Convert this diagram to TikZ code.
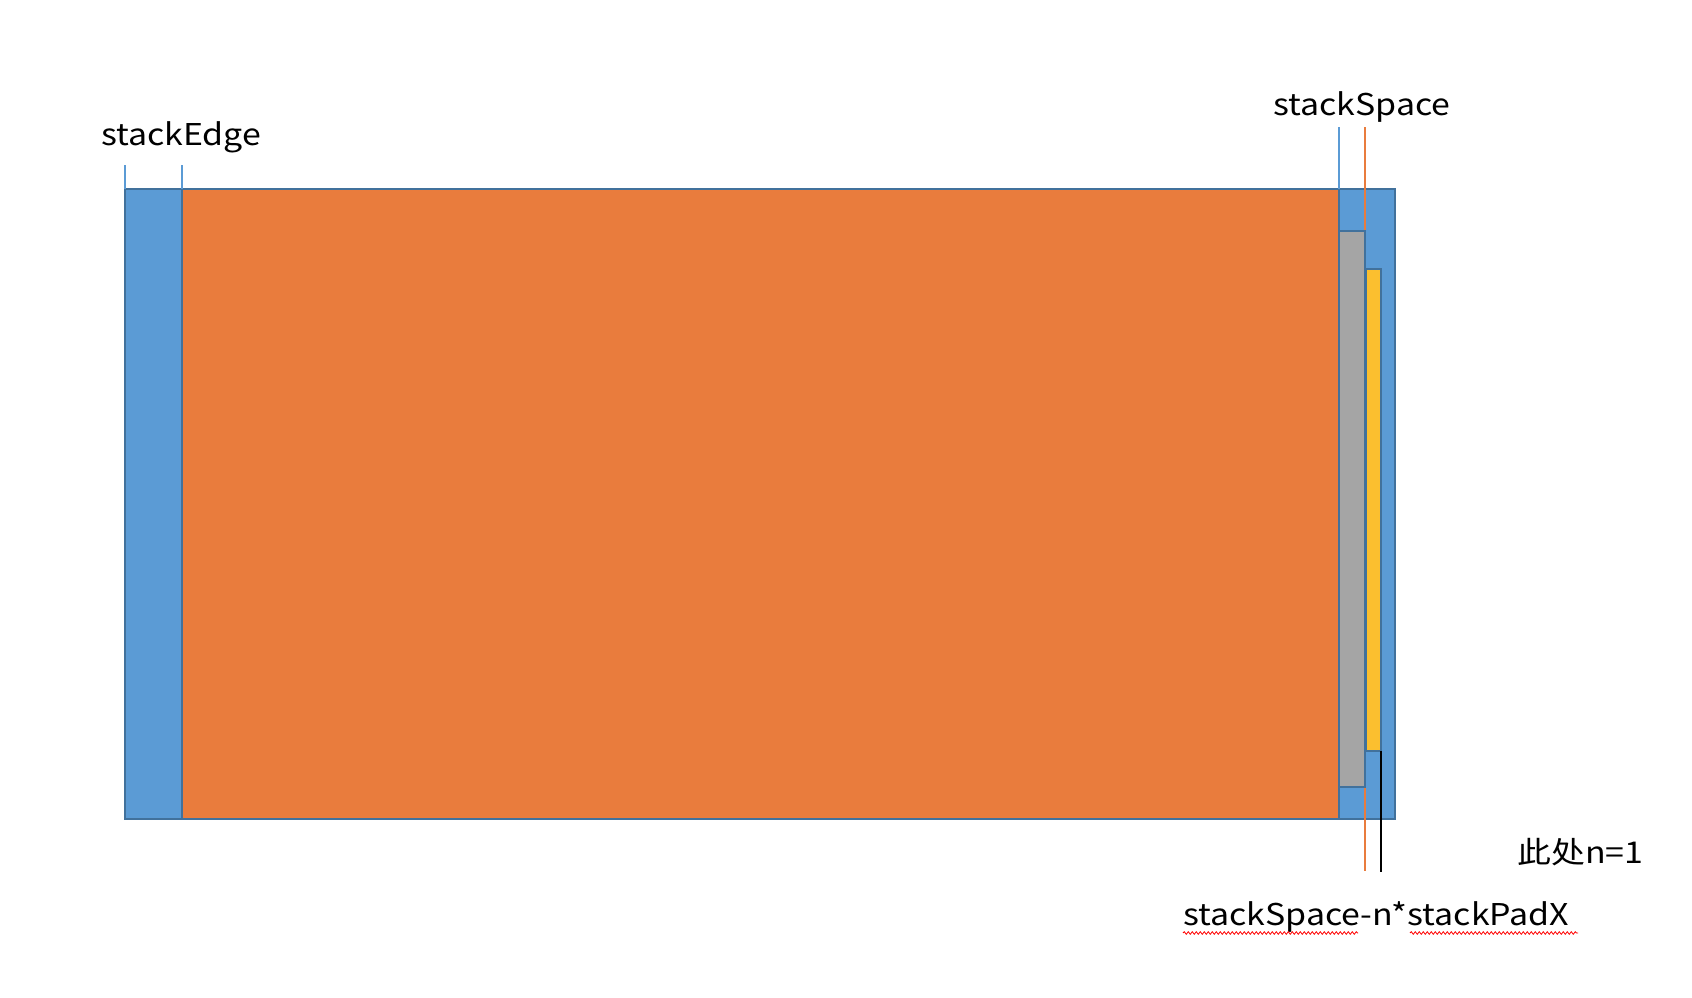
\documentclass[tikz,border=0pt]{standalone}
\usepackage{fontspec}
\setmainfont{Noto Sans CJK SC}[FakeStretch=1.13]
\usetikzlibrary{decorations.pathmorphing}
\definecolor{cblue}{HTML}{5B9BD5}
\definecolor{corange}{HTML}{E97C3D}
\definecolor{cgray}{HTML}{A5A5A5}
\definecolor{cyellow}{HTML}{FBBF2F}
\definecolor{cborder}{HTML}{41719C}
\tikzset{
  box/.style={draw=cborder, line width=1.6pt},
  lbl/.style={inner sep=0pt, anchor=base west, font=\fontsize{30}{36}\selectfont},
  mark blue/.style={draw=cblue, line width=1.4pt},
  mark orange/.style={draw=corange, line width=1.6pt},
  mark black/.style={draw=black, line width=1.8pt},
  squiggle/.style={draw=red, line width=0.8pt, decorate, decoration={snake, amplitude=1.3pt, segment length=4pt}}
}
\begin{document}
\begin{tikzpicture}[x=1pt, y=-1pt]
\useasboundingbox (0,0) rectangle (1692,998);
% outer blue panel
\filldraw[box, fill=cblue] (125,189) rectangle (1395,819);
% big orange area
\filldraw[box, fill=corange] (182,189) rectangle (1339,819);
% orange marker line (behind gray)
\draw[mark orange] (1365,127) -- (1365,871);
% gray bar
\filldraw[box, fill=cgray] (1339,231) rectangle (1365,787);
% yellow bar
\filldraw[box, fill=cyellow] (1366,269) rectangle (1381,751);
% marker lines
\coordinate (le1) at (125,165); \coordinate (le1b) at (125,189);
\coordinate (le2) at (182,165); \coordinate (le2b) at (182,189);
\coordinate (rs1) at (1339,127); \coordinate (rs1b) at (1339,189);
\coordinate (bk1) at (1381,751); \coordinate (bk2) at (1381,872);
\draw[mark blue] (le1) -- (le1b);
\draw[mark blue] (le2) -- (le2b);
\draw[mark blue] (rs1) -- (rs1b);
\draw[mark black] (bk1) -- (bk2);
% labels
\node[lbl] (edge) at (101,145) {stackEdge};
\node[lbl] (space) at (1273,115) {stackSpace};
\node[lbl] (nval) at (1517,863) {此处n=1};
\node[lbl] (formula) at (1183,925) {stackSpace-n*stackPadX};
% spell-check squiggles
\draw[squiggle] (1183,933) -- (1358,933);
\draw[squiggle] (1410,933) -- (1578,933);
\end{tikzpicture}
\end{document}
